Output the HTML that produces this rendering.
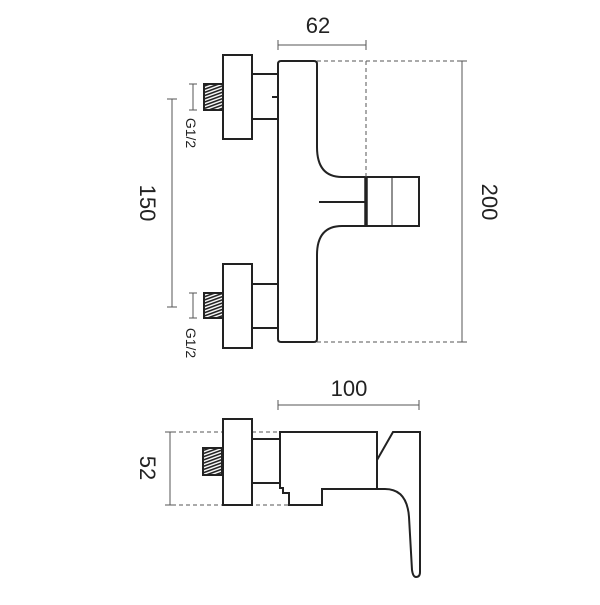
<!DOCTYPE html>
<html><head><style>body{margin:0;background:#fff}</style></head><body>
<svg width="600" height="600" viewBox="0 0 600 600" xmlns="http://www.w3.org/2000/svg" font-family="Liberation Sans, sans-serif">
<defs>
<pattern id="th" width="3" height="3" patternUnits="userSpaceOnUse" patternTransform="rotate(70)">
<rect width="3" height="3" fill="#fff"/><rect width="1.6" height="3" fill="#222"/></pattern>
</defs>
<g fill="none" stroke="#222" stroke-width="2">
<!-- top view -->
<path d="M317 147 Q317 177 342 177 L419 177 L419 226 L342 226 Q317 226 317 255 L317 339 Q317 342 314 342 L281 342 Q278 342 278 339 L278 64 Q278 61 281 61 L314 61 Q317 61 317 64 Z"/>
<rect x="223" y="55" width="29" height="84"/>
<rect x="252" y="74" width="26" height="45"/>
<line x1="272" y1="97" x2="278" y2="97"/>
<rect x="204" y="84" width="19" height="26" fill="url(#th)"/>
<rect x="223" y="264" width="29" height="84"/>
<rect x="252" y="284" width="26" height="44"/>
<rect x="204" y="293" width="19" height="25" fill="url(#th)"/>
<line x1="366" y1="177" x2="366" y2="226" stroke-width="3.5"/>
<line x1="392" y1="177" x2="392" y2="226" stroke-width="1"/>
<line x1="319" y1="202" x2="366" y2="202"/>
</g>
<g stroke="#555" stroke-width="1" fill="none">
<path d="M317 61H465M317 342H465M366 61V177" stroke-dasharray="4 3"/>
<path d="M278 45H366M278 40V50M366 40V50"/>
<path d="M462 61V342M457 61H467M457 342H467"/>
<path d="M172 99V307M167 99H177M167 307H177"/>
<path d="M193 84V110M189 84H197M189 110H197"/>
<path d="M193 293V318M189 293H197M189 318H197"/>
<path d="M278 405H419M278 400V410M419 400V410"/>
<path d="M170 432V505M165 432H175M165 505H175"/>
<path d="M165 432H223M252 432H280M165 505H289" stroke-dasharray="4 3"/>
</g>
<g fill="#222" font-size="22">
<text x="318" y="33" text-anchor="middle">62</text>
<text x="349" y="396" text-anchor="middle">100</text>
<text transform="translate(482,202) rotate(90)" text-anchor="middle">200</text>
<text transform="translate(140,203) rotate(90)" text-anchor="middle">150</text>
<text transform="translate(140,468) rotate(90)" text-anchor="middle">52</text>
<text transform="translate(186,133) rotate(90)" text-anchor="middle" font-size="14">G1/2</text>
<text transform="translate(186,343) rotate(90)" text-anchor="middle" font-size="14">G1/2</text>
</g>
<!-- side view -->
<g fill="none" stroke="#222" stroke-width="2">
<rect x="223" y="419" width="29" height="86"/>
<rect x="252" y="439" width="28" height="44"/>
<rect x="203" y="448" width="19" height="27" fill="url(#th)"/>
<path d="M280 432H377V489H322V505H289V493H283V488H280Z"/>
<path d="M377 460L393 432H420V572Q420 577 416 577Q413 577 412 570L409 517Q407 489 385 489H377"/>
</g>
</svg>
</body></html>
